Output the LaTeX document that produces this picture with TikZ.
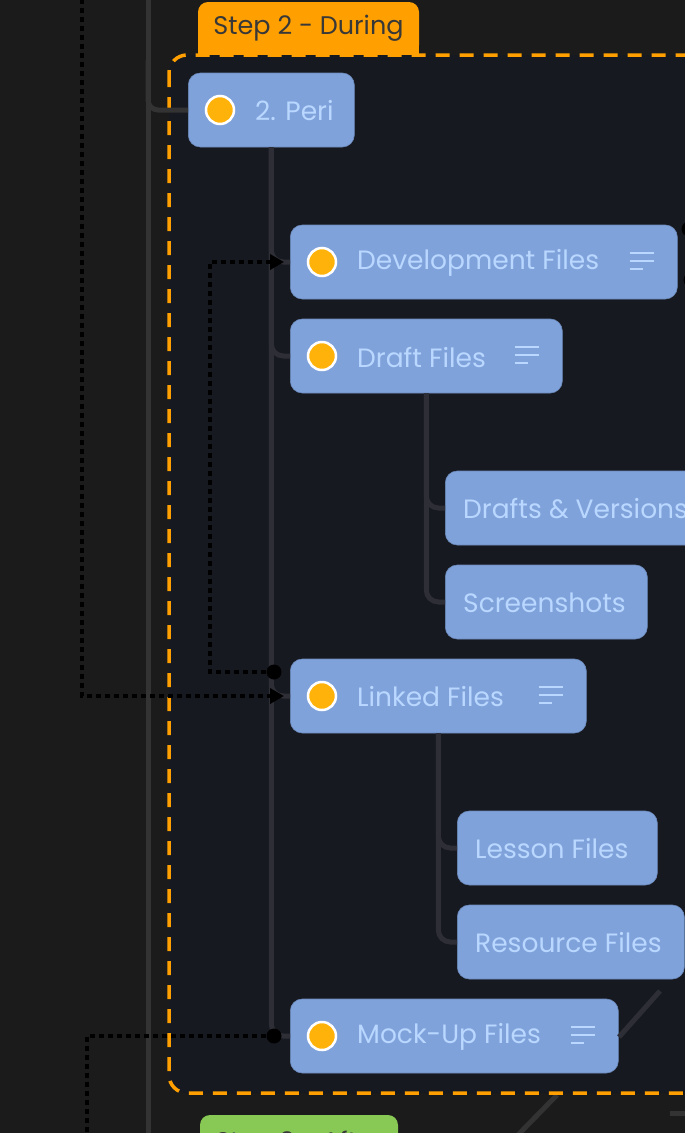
\documentclass[tikz,border=0pt]{standalone}
\usepackage{fontspec}
\setmainfont{Poppins}
\usetikzlibrary{arrows.meta}

\definecolor{canvas}{HTML}{1B1B1B}
\definecolor{groupbg}{HTML}{171921}
\definecolor{during}{HTML}{FFA000}
\definecolor{after}{HTML}{88C955}
\definecolor{tabtext}{HTML}{383838}
\definecolor{topicfill}{HTML}{7FA2DB}
\definecolor{topictext}{HTML}{B9D7FF}
\definecolor{branchgrey}{HTML}{2D2E36}
\definecolor{trunkgrey}{HTML}{333333}
\definecolor{ballfill}{HTML}{FFB20A}

\begin{document}
\begin{tikzpicture}[x=1pt, y=-1pt,
    topic/.style = {rectangle, rounded corners=12pt, fill=topicfill, draw=topicfill!85!black, line width=0.6pt, anchor=west, minimum height=74pt, inner sep=0pt},
    label/.style = {anchor=west, text=topictext, font=\fontsize{26.5}{31}\selectfont, inner sep=0pt},
    ball/.style = {circle, fill=ballfill, draw=white, line width=2.5pt, minimum size=28pt, inner sep=0pt},
    tabbox/.style = {rectangle, rounded corners=10pt, minimum height=53pt, text=tabtext, font=\fontsize{25.5}{30}\selectfont},
    branch/.style = {draw=branchgrey, line width=5pt, rounded corners=12pt},
    trunk/.style = {draw=trunkgrey, line width=5pt, rounded corners=10pt},
    menu/.style = {draw=topictext, line width=2.5pt},
    link/.style = {draw=black, line width=3.5pt, dash pattern=on 5pt off 4pt},
    linkarrow/.style = {link, -{Triangle[length=14pt, width=15pt]}, shorten >=6pt},
    joint/.style = {circle, fill=black, minimum size=15pt, inner sep=0pt}]

    \useasboundingbox (0,0) rectangle (685,1133);
    \clip (0,0) rectangle (685,1133);
    \fill[canvas] (0,0) rectangle (685,1133);

    % background lines
    \draw[trunk] (148,-10) -- (148,1143);
    \draw[trunk] (557,1095) -- (512,1141);
    \draw[trunk] (670,1113) -- (700,1113);

    % step tabs
    \node[tabbox, fill=after, minimum width=198pt, minimum height=58pt] (step3) at (299,1144) {Step 3 - After};
    \fill[during] (198,30) rectangle (419,56);
    \node[tabbox, fill=during, minimum width=221pt] (step2) at (308.5,28.5) {Step 2 - During};

    % group
    \draw[fill=groupbg, draw=during, line width=3.5pt, dash pattern=on 14pt off 10pt, rounded corners=18pt] (169,55) rectangle (720,1093);

    \foreach \name/\x/\y/\w/\text in {peri/188/110/166/{2. Peri}, dev/290/262/387/{Development Files}, draft/290/356/272/{Draft Files}, linked/290/696/296/{Linked Files}, mockup/290/1036/328/{Mock-Up Files}}
    {
      \node[topic, minimum width=\w pt] (\name) at (\x,\y) {};
      \node[ball] (\name-ball) at ([xshift=32pt]\name.west) {};
      \node[label] (\name-text) at ([xshift=67pt, yshift=-1pt]\name.west) {\text};
    }

    \foreach \name/\x/\y/\w/\text in {versions/445/508/262/{Drafts \& Versions}, shots/445/602/202/{Screenshots}, lesson/457/848/200/{Lesson Files}, resource/457/942/227/{Resource Files}}
    {
      \node[topic, minimum width=\w pt] (\name) at (\x,\y) {};
      \node[label] (\name-text) at ([xshift=18pt, yshift=-1pt]\name.west) {\text};
    }

    \foreach \name in {dev, draft, linked, mockup}
    {
      \draw[menu] ([xshift=-48pt, yshift=9pt]\name.east) -- ++(24,0);
      \draw[menu] ([xshift=-48pt, yshift=1pt]\name.east) -- ++(24,0);
      \draw[menu] ([xshift=-48pt, yshift=-7pt]\name.east) -- ++(13,0);
    }

    % tree
    \draw[trunk] (148,60) |- (peri.west);
    \draw[branch] (660,991) -- (619,1037);
    \foreach \a/\b in {peri/dev, peri/draft, peri/linked, peri/mockup, draft/versions, draft/shots, linked/lesson, linked/resource}
    {
      \draw[branch] (\a.south) |- (\b.west);
    }

    % links
    \node[joint] (linked-joint) at ([xshift=-16pt, yshift=24pt]linked.west) {};
    \node[joint] (mockup-joint) at ([xshift=-16pt]mockup.west) {};
    \node[joint] (edge-a) at (689,229) {};
    \node[joint] (edge-b) at (691,280) {};
    \coordinate (top-in) at (82,-10);
    \coordinate (bottom-out) at (87,1143);

    \draw[linkarrow] (top-in) |- (linked.west);
    \draw[linkarrow] (linked-joint) -| ([xshift=-80pt]dev.west) -- (dev.west);
    \draw[link] (mockup-joint) -| (bottom-out);
\end{tikzpicture}
\end{document}
